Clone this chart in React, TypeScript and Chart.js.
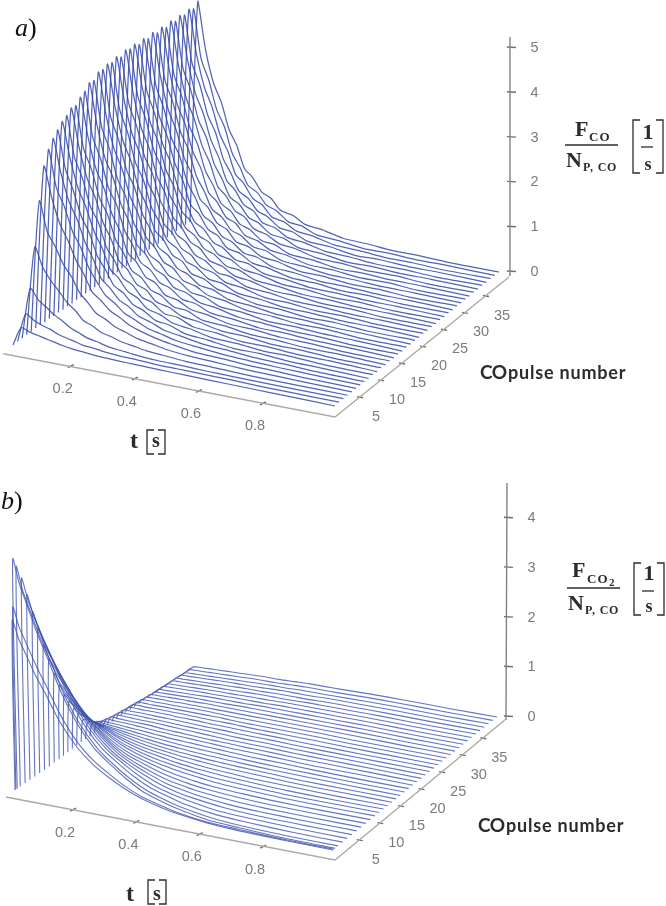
import React, { useEffect, useRef } from "react";
import { Chart, registerables } from "chart.js";

Chart.register(...registerables);

// ---------- panel a data ----------
const timesA = [0.01, 0.035, 0.06, 0.085, 0.11, 0.135, 0.16, 0.185, 0.21, 0.24, 0.27, 0.3, 0.34, 0.38, 0.43, 0.5, 0.58, 0.66, 0.75, 0.85, 1];
const pulsesA = [1, 2, 3, 4, 5, 6, 7, 8, 9, 10, 11, 12, 13, 14, 15, 16, 17, 18, 19, 20, 21, 22, 23, 24, 25, 26, 27, 28, 29, 30, 31, 32, 33, 34, 35, 36, 37, 38, 39, 40];
const ratesA = [
  [0, .42, .36, .32, .28, .24, .2, .17, .15, .13, .11, .1, .09, .08, .07, .06, .05, .04, .03, .02, 0],
  [.01, .65, .55, .47, .42, .34, .29, .25, .2, .18, .15, .13, .11, .1, .08, .07, .06, .05, .03, .02, .01],
  [.01, 1.15, .93, .8, .66, .56, .44, .37, .29, .25, .19, .16, .13, .1, .08, .07, .05, .04, .03, .02, .01],
  [.02, 2, 1.58, 1.32, 1.12, .9, .76, .57, .5, .38, .33, .26, .21, .16, .13, .09, .07, .05, .03, .02, .01],
  [.02, 2.95, 2.3, 2, 1.64, 1.4, 1.08, .9, .7, .6, .47, .4, .3, .25, .18, .13, .1, .07, .05, .03, .01],
  [.03, 3.65, 2.98, 2.44, 2.1, 1.7, 1.41, 1.06, .92, .72, .61, .48, .38, .3, .23, .15, .12, .08, .06, .03, .01],
  [.03, 3.95, 3.14, 2.75, 2.24, 1.92, 1.5, 1.22, .97, .82, .64, .54, .4, .33, .24, .18, .12, .09, .06, .04, .01],
  [.02, 4.12, 3.4, 2.8, 2.44, 1.96, 1.62, 1.22, 1.06, .82, .71, .54, .45, .33, .27, .18, .14, .09, .07, .03, .01],
  [.03, 4.24, 3.42, 2.96, 2.42, 2.08, 1.6, 1.34, 1.03, .9, .68, .6, .42, .38, .25, .2, .12, .11, .06, .04, 0],
  [.02, 4.36, 3.6, 2.96, 2.56, 2.06, 1.72, 1.29, 1.13, .86, .76, .56, .48, .34, .29, .18, .15, .09, .08, .03, .01],
  [.03, 4.42, 3.54, 3.1, 2.5, 2.18, 1.66, 1.4, 1.06, .94, .7, .63, .43, .4, .25, .21, .12, .11, .06, .05, 0],
  [.02, 4.52, 3.7, 3.04, 2.65, 2.12, 1.78, 1.33, 1.18, .88, .79, .57, .5, .35, .3, .19, .16, .09, .08, .03, .01],
  [.03, 4.5, 3.6, 3.16, 2.56, 2.22, 1.7, 1.43, 1.08, .96, .72, .65, .44, .41, .26, .22, .13, .11, .06, .05, 0],
  [.02, 4.62, 3.78, 3.1, 2.7, 2.16, 1.82, 1.36, 1.2, .9, .81, .58, .51, .36, .31, .19, .16, .1, .08, .03, .01],
  [.03, 4.68, 3.72, 3.26, 2.64, 2.3, 1.76, 1.47, 1.12, .99, .74, .67, .46, .42, .27, .22, .13, .12, .07, .05, 0],
  [.02, 4.8, 3.9, 3.2, 2.8, 2.24, 1.88, 1.4, 1.24, .94, .83, .6, .53, .37, .32, .2, .16, .1, .08, .03, .01],
  [.03, 4.78, 3.8, 3.33, 2.7, 2.35, 1.8, 1.5, 1.14, 1.01, .76, .68, .47, .43, .27, .23, .13, .12, .07, .05, 0],
  [.02, 4.9, 3.98, 3.27, 2.85, 2.28, 1.92, 1.43, 1.26, .95, .85, .62, .54, .38, .33, .2, .17, .1, .09, .03, .01],
  [.03, 4.88, 3.88, 3.4, 2.76, 2.4, 1.84, 1.53, 1.17, 1.03, .77, .69, .48, .44, .28, .23, .14, .12, .07, .05, 0],
  [.02, 4.94, 4.02, 3.3, 2.88, 2.3, 1.95, 1.44, 1.28, .96, .86, .62, .55, .38, .33, .2, .17, .1, .09, .03, .01],
  [.03, 4.9, 3.9, 3.42, 2.78, 2.42, 1.85, 1.55, 1.18, 1.04, .78, .7, .48, .44, .28, .23, .14, .12, .07, .05, 0],
  [.02, 4.96, 4.04, 3.32, 2.9, 2.3, 1.96, 1.45, 1.28, .97, .86, .63, .55, .38, .33, .2, .17, .1, .09, .03, .01],
  [.03, 4.88, 3.9, 3.42, 2.78, 2.42, 1.85, 1.55, 1.18, 1.04, .78, .7, .48, .44, .28, .23, .14, .12, .07, .05, 0],
  [.02, 4.97, 4.04, 3.32, 2.9, 2.3, 1.96, 1.45, 1.28, .97, .86, .63, .55, .38, .33, .2, .17, .1, .09, .03, .01],
  [.03, 4.92, 3.92, 3.44, 2.8, 2.42, 1.86, 1.56, 1.18, 1.04, .78, .7, .48, .44, .28, .23, .14, .12, .07, .05, 0],
  [.02, 4.96, 4.04, 3.3, 2.9, 2.3, 1.96, 1.44, 1.28, .96, .86, .62, .55, .38, .33, .2, .17, .1, .09, .03, .01],
  [.03, 4.88, 3.9, 3.42, 2.78, 2.4, 1.85, 1.54, 1.18, 1.04, .78, .7, .48, .44, .28, .23, .14, .12, .07, .05, 0],
  [.02, 4.94, 4.02, 3.3, 2.88, 2.3, 1.95, 1.44, 1.28, .96, .86, .62, .55, .38, .33, .2, .17, .1, .09, .03, .01],
  [.03, 4.87, 3.88, 3.4, 2.76, 2.4, 1.84, 1.53, 1.17, 1.03, .77, .69, .48, .44, .28, .23, .14, .12, .07, .05, 0],
  [.02, 4.94, 4.02, 3.3, 2.88, 2.3, 1.95, 1.44, 1.28, .96, .86, .62, .55, .38, .33, .2, .17, .1, .09, .03, .01],
  [.03, 4.86, 3.86, 3.4, 2.76, 2.4, 1.84, 1.53, 1.16, 1.03, .77, .69, .48, .44, .28, .23, .14, .12, .07, .05, 0],
  [.02, 4.92, 4, 3.28, 2.86, 2.28, 1.94, 1.43, 1.27, .95, .85, .62, .54, .38, .33, .2, .17, .1, .09, .03, .01],
  [.03, 4.84, 3.84, 3.38, 2.74, 2.38, 1.82, 1.52, 1.15, 1.02, .76, .68, .47, .43, .27, .23, .13, .12, .07, .05, 0],
  [.02, 4.92, 3.98, 3.27, 2.85, 2.28, 1.92, 1.43, 1.26, .95, .85, .62, .54, .38, .33, .2, .17, .1, .09, .03, .01],
  [.03, 4.84, 3.84, 3.38, 2.74, 2.38, 1.82, 1.52, 1.15, 1.02, .76, .68, .47, .43, .27, .23, .13, .12, .07, .05, 0],
  [.02, 4.9, 3.96, 3.25, 2.83, 2.26, 1.9, 1.42, 1.25, .94, .84, .61, .54, .37, .32, .2, .16, .1, .08, .03, .01],
  [.03, 4.84, 3.82, 3.36, 2.72, 2.36, 1.8, 1.5, 1.14, 1.01, .76, .68, .47, .43, .27, .23, .13, .12, .07, .05, 0],
  [.02, 4.9, 3.94, 3.24, 2.82, 2.24, 1.9, 1.41, 1.25, .94, .83, .6, .53, .37, .32, .2, .16, .1, .08, .03, .01],
  [.03, 4.84, 3.78, 3.32, 2.7, 2.34, 1.78, 1.49, 1.13, 1, .75, .67, .46, .42, .27, .22, .13, .12, .07, .05, 0],
  [.02, 4.96, 3.9, 3.2, 2.8, 2.22, 1.88, 1.4, 1.24, .94, .83, .6, .53, .37, .32, .2, .16, .1, .08, .03, 0],
];

// ---------- panel b data ----------
const timesB = [0.005, 0.012, 0.03, 0.05, 0.08, 0.11, 0.15, 0.2, 0.25, 0.3, 0.35, 0.4, 0.45, 0.5, 0.6, 0.7, 0.85, 1];
const pulsesB = [1, 1.2, 1.5, 2.2, 3.3, 4.4, 5.5, 6.6, 7.7, 8.8, 9.9, 11, 12, 13, 14, 15, 16, 17, 18, 19, 20, 21, 22, 23, 24, 25, 26, 27, 28, 29, 30, 31, 32, 33, 34, 35, 36, 37, 38, 39, 40];
const ratesB = [
  [0, 3.4, 3.06, 2.79, 2.38, 2.04, 1.56, 1.12, .82, .61, .44, .31, .22, .15, .07, .03, .01, 0],
  [0, 3.65, 3.28, 2.99, 2.56, 2.19, 1.68, 1.2, .88, .66, .47, .33, .24, .16, .07, .04, .01, 0],
  [0, 4.6, 4.14, 3.77, 3.22, 2.76, 2.12, 1.52, 1.1, .83, .6, .41, .3, .21, .09, .05, .01, 0],
  [0, 4.4, 3.96, 3.6, 3.08, 2.64, 2.02, 1.45, 1.06, .79, .57, .4, .29, .2, .09, .04, .01, 0],
  [0, 4.1, 3.7, 3.36, 2.87, 2.46, 1.89, 1.35, .98, .74, .53, .37, .27, .18, .08, .04, .01, 0],
  [0, 3.7, 3.33, 3.03, 2.59, 2.22, 1.7, 1.22, .89, .67, .48, .33, .24, .17, .07, .04, .01, 0],
  [0, 3.3, 2.97, 2.71, 2.31, 1.98, 1.52, 1.09, .79, .59, .43, .3, .21, .15, .07, .03, .01, 0],
  [0, 2.9, 2.61, 2.38, 2.03, 1.74, 1.33, .96, .7, .52, .38, .26, .19, .13, .06, .03, .01, 0],
  [0, 2.5, 2.25, 2.05, 1.75, 1.5, 1.15, .83, .6, .45, .33, .23, .17, .12, .06, .03, .01, 0],
  [0, 2.15, 1.94, 1.76, 1.51, 1.29, .99, .71, .52, .4, .29, .21, .15, .11, .06, .03, .01, 0],
  [.01, 1.8, 1.62, 1.48, 1.26, 1.08, .84, .61, .45, .35, .26, .19, .14, .1, .06, .03, .01, 0],
  [.01, 1.5, 1.36, 1.24, 1.07, .92, .72, .53, .4, .31, .24, .18, .14, .1, .06, .03, .01, 0],
  [.02, 1.25, 1.14, 1.04, .9, .78, .62, .46, .36, .28, .22, .17, .13, .1, .06, .03, .01, 0],
  [.03, 1.05, .96, .88, .77, .67, .54, .41, .32, .26, .2, .16, .13, .1, .06, .03, .01, 0],
  [.04, .85, .78, .72, .64, .56, .46, .36, .29, .24, .19, .15, .12, .1, .06, .04, .01, 0],
  [.05, .68, .65, .6, .54, .48, .4, .32, .26, .22, .18, .15, .12, .1, .07, .04, .02, 0],
  [.05, .5, .52, .49, .45, .41, .35, .29, .24, .2, .17, .14, .12, .1, .07, .04, .02, 0],
  [.05, .38, .43, .41, .38, .35, .31, .26, .22, .19, .16, .14, .12, .1, .07, .05, .02, 0],
  [.05, .3, .37, .35, .33, .31, .28, .24, .21, .18, .16, .14, .12, .1, .07, .05, .02, 0],
  [.05, .25, .32, .31, .3, .28, .26, .23, .2, .18, .16, .14, .12, .1, .08, .05, .02, 0],
  [.05, .2, .3, .29, .28, .27, .25, .22, .2, .18, .16, .14, .12, .11, .08, .05, .03, 0],
  [.05, .18, .28, .27, .26, .25, .24, .21, .19, .17, .15, .14, .12, .11, .08, .06, .03, 0],
  [.04, .16, .26, .26, .25, .24, .23, .21, .19, .17, .15, .13, .12, .11, .08, .06, .03, 0],
  [.04, .15, .25, .24, .24, .23, .22, .2, .18, .17, .15, .13, .12, .11, .08, .06, .03, 0],
  [.04, .14, .24, .23, .23, .22, .21, .2, .18, .16, .15, .13, .12, .11, .08, .06, .03, 0],
  [.04, .13, .23, .23, .22, .22, .21, .19, .18, .16, .15, .13, .12, .11, .08, .06, .03, 0],
  [.04, .12, .22, .22, .21, .21, .2, .19, .17, .16, .15, .13, .12, .11, .09, .06, .03, 0],
  [.03, .11, .21, .21, .2, .2, .19, .18, .17, .16, .14, .13, .12, .11, .09, .06, .03, 0],
  [.03, .1, .2, .2, .19, .19, .18, .18, .17, .15, .14, .13, .12, .11, .09, .06, .03, 0],
  [.03, .09, .19, .19, .19, .18, .18, .17, .16, .15, .14, .13, .12, .11, .09, .07, .03, 0],
  [.03, .09, .18, .18, .18, .18, .17, .17, .16, .15, .14, .13, .12, .11, .09, .07, .03, 0],
  [.03, .08, .17, .17, .17, .17, .17, .16, .15, .15, .14, .13, .12, .11, .09, .07, .03, 0],
  [.02, .08, .16, .16, .16, .16, .16, .16, .15, .14, .14, .13, .12, .11, .09, .07, .03, 0],
  [.02, .08, .16, .16, .16, .16, .16, .15, .15, .14, .13, .13, .12, .11, .09, .07, .03, 0],
  [.02, .07, .15, .15, .15, .15, .15, .15, .14, .14, .13, .13, .12, .11, .09, .07, .03, 0],
  [.02, .07, .15, .15, .15, .15, .15, .14, .14, .14, .13, .12, .12, .11, .09, .07, .03, 0],
  [.02, .07, .14, .14, .14, .14, .14, .14, .14, .13, .13, .12, .11, .11, .09, .07, .03, 0],
  [.02, .07, .14, .14, .14, .14, .14, .14, .13, .13, .13, .12, .11, .11, .09, .07, .03, 0],
  [.01, .06, .13, .13, .13, .13, .13, .13, .13, .13, .12, .12, .11, .1, .09, .07, .03, 0],
  [.01, .06, .13, .13, .13, .13, .13, .13, .13, .12, .12, .12, .11, .1, .09, .07, .03, 0],
  [.01, .06, .13, .13, .13, .13, .13, .13, .13, .12, .12, .12, .11, .1, .09, .07, .03, 0],
];

// ---------- tick labels ----------
const timeTicks = [0.2, 0.4, 0.6, 0.8];
const pulseTicks = [5, 10, 15, 20, 25, 30, 35];
const rateTicksA = [0, 1, 2, 3, 4, 5];
const rateTicksB = [0, 1, 2, 3, 4];

type Pt = { x: number; y: number };
type Geo = {
  t0: number; corners: number[][]; zs: number; lean: number;
  tAxis: number[]; tStart: number; tEnd: number;
  pFront: number[]; pBack: number[]; zBase: number; zTop: number; zx: number; zScale: number;
};

const geoA: Geo = {
  t0: 0.01,
  corners: [[13, 345], [335, 406], [190, 223], [499, 272]],
  zs: 45, lean: 0,
  tAxis: [6.6, 354.4, 320.5, 61.7], tStart: -0.01, tEnd: 1.025,
  pFront: [335, 417], pBack: [509, 277], zBase: 271, zTop: 37, zx: 510, zScale: 44.8,
};
const geoB: Geo = {
  t0: 0.005,
  corners: [[15, 790], [333, 850], [187, 672], [497, 717]],
  zs: 50, lean: 1.5,
  tAxis: [9.7, 797.7, 316.7, 61.7], tStart: -0.012, tEnd: 1.027,
  pFront: [335, 860], pBack: [506, 719], zBase: 716, zTop: 483, zx: 507, zScale: 49.7,
};

function project(g: Geo, t: number, p: number, z: number): Pt {
  const u = (t - g.t0) / (1 - g.t0);
  const v = (p - 1) / 39;
  const c = g.corners;
  const fx = c[0][0] + (c[1][0] - c[0][0]) * u;
  const fy = c[0][1] + (c[1][1] - c[0][1]) * u;
  const bx = c[2][0] + (c[3][0] - c[2][0]) * u;
  const by = c[2][1] + (c[3][1] - c[2][1]) * u;
  const x = fx + (bx - fx) * v;
  const y = fy + (by - fy) * v;
  return { x: x - g.lean * z * Math.max(0, 1 - (x - 15) / 490), y: y - z * g.zs };
}
const tPos = (g: Geo, t: number): Pt => ({ x: g.tAxis[0] + g.tAxis[2] * t, y: g.tAxis[1] + g.tAxis[3] * t });
const pPos = (g: Geo, p: number): Pt => {
  const f = (p + 1) / 41.5;
  return { x: g.pFront[0] + (g.pBack[0] - g.pFront[0]) * f, y: g.pFront[1] + (g.pBack[1] - g.pFront[1]) * f };
};
const zPos = (g: Geo, z: number): Pt => ({ x: g.zx, y: g.zBase - z * g.zScale });

const LINE_A = "rgba(52,72,170,0.85)";
const LINE_B = "rgba(62,82,175,0.8)";
const AXIS = "rgba(170,170,165,1)";
const ZAXIS = "rgba(130,130,130,1)";
const TICK = "rgba(110,110,110,1)";

function curveSets(g: Geo, times: number[], pulses: number[], rates: number[][], color: string, width: number) {
  return rates.map((row, i) => ({
    data: row.map((z, j) => project(g, times[j], pulses[i], z)),
    borderColor: color, borderWidth: width, tension: 0.25, pointRadius: 0, showLine: true, parsing: false as const,
  }));
}
function axisSets(g: Geo, zTicks: number[]) {
  const seg = (data: (Pt | { x: number; y: null })[], color: string, w = 1.4) => ({
    data, borderColor: color, borderWidth: w, pointRadius: 0, showLine: true, spanGaps: false, tension: 0, parsing: false as const,
  });
  const gap = (x: number) => ({ x, y: null });
  const tt: any[] = [], pt: any[] = [], zt: any[] = [];
  timeTicks.forEach((t) => {
    const a = tPos(g, t);
    tt.push({ x: a.x - 3, y: a.y + 1 }, { x: a.x + 3, y: a.y - 2 }, gap(a.x));
  });
  pulseTicks.forEach((p) => {
    const a = pPos(g, p);
    pt.push({ x: a.x - 3, y: a.y }, { x: a.x + 3, y: a.y + 1 }, gap(a.x));
  });
  zTicks.forEach((z) => {
    const a = zPos(g, z);
    zt.push({ x: a.x - 3, y: a.y }, { x: a.x + 6, y: a.y + 0.5 }, gap(a.x));
  });
  return [
    seg([tPos(g, g.tStart), { x: g.pFront[0], y: g.pFront[1] }, { x: g.pBack[0], y: g.pBack[1] }], AXIS),
    seg([{ x: g.zx - 1, y: g.zBase + 4 }, { x: g.zx, y: g.zTop }], ZAXIS),
    seg(tt, TICK), seg(pt, TICK), seg(zt, TICK),
  ];
}

function drawBracket(ctx: CanvasRenderingContext2D, x: number, y0: number, y1: number, dir: number) {
  ctx.beginPath();
  ctx.moveTo(x + dir * 7, y0);
  ctx.lineTo(x, y0);
  ctx.lineTo(x, y1);
  ctx.lineTo(x + dir * 7, y1);
  ctx.stroke();
}

function text(ctx: CanvasRenderingContext2D, s: string, x: number, y: number, font: string, color: string, align: CanvasTextAlign = "center", spacing = "0px") {
  ctx.font = font;
  ctx.fillStyle = color;
  ctx.textAlign = align;
  ctx.textBaseline = "middle";
  (ctx as any).letterSpacing = spacing;
  ctx.fillText(s, x, y);
  (ctx as any).letterSpacing = "0px";
}

const SANS = "'Liberation Sans'";
const SERIF = "'Liberation Serif'";
const GRAY = "#7b7b7b";
const DARK = "#2c2c2c";

function drawPanelText(ctx: CanvasRenderingContext2D, g: Geo, zTicks: number[], yPulseTitle: number, xPulseTitle: number) {
  timeTicks.forEach((t) => {
    const a = tPos(g, t);
    text(ctx, t.toFixed(1), a.x - 8, a.y + 22.5, `14.5px ${SANS}`, GRAY);
  });
  pulseTicks.forEach((p) => {
    const a = pPos(g, p);
    text(ctx, String(p), a.x + 16, a.y + 20, `14.5px ${SANS}`, GRAY);
  });
  zTicks.forEach((z) => {
    const a = zPos(g, z);
    text(ctx, String(z), a.x + 24.5, a.y + 1, `14.5px ${SANS}`, GRAY);
  });
  text(ctx, "CO", xPulseTitle, yPulseTitle, `bold 19px Lato`, DARK, "left", "-0.5px");
  text(ctx, "pulse number", xPulseTitle + 28, yPulseTitle, `bold 18px Lato`, DARK, "left", "0.8px");
}

const labelsPlugin = {
  id: "labels",
  afterDraw(chart: any) {
    const ctx: CanvasRenderingContext2D = chart.ctx;
    ctx.save();
    drawPanelText(ctx, geoA, rateTicksA, 373, 480);
    drawPanelText(ctx, geoB, rateTicksB, 826, 478);

    // panel letters
    text(ctx, "a", 15, 29, `italic 26px ${SERIF}`, "#111", "left");
    text(ctx, ")", 28, 29, `26px ${SERIF}`, "#111", "left");
    text(ctx, "b", 1, 502, `italic 26px ${SERIF}`, "#111", "left");
    text(ctx, ")", 14, 502, `26px ${SERIF}`, "#111", "left");

    ctx.strokeStyle = DARK;
    ctx.lineWidth = 1.3;

    // panel a fraction
    text(ctx, "F", 575, 130, `bold 22px ${SERIF}`, DARK, "left");
    text(ctx, "CO", 589, 138, `bold 13px ${SERIF}`, DARK, "left", "1px");
    ctx.beginPath(); ctx.moveTo(565, 145); ctx.lineTo(618, 145); ctx.stroke();
    text(ctx, "N", 566, 161, `bold 22px ${SERIF}`, DARK, "left");
    text(ctx, "P, CO", 583, 168, `bold 12px ${SERIF}`, DARK, "left", "0.8px");
    drawBracket(ctx, 633, 120, 173, 1);
    drawBracket(ctx, 663, 120, 173, -1);
    text(ctx, "1", 648, 133, `bold 22px ${SERIF}`, DARK);
    ctx.beginPath(); ctx.moveTo(641, 147); ctx.lineTo(653, 147); ctx.stroke();
    text(ctx, "s", 648, 165, `bold 18px ${SERIF}`, DARK);

    // panel a time title
    text(ctx, "t", 134, 442, `bold 24px ${SERIF}`, DARK);
    drawBracket(ctx, 147, 430, 454, 1);
    drawBracket(ctx, 165, 430, 454, -1);
    text(ctx, "s", 156, 442, `bold 20px ${SERIF}`, DARK);

    // panel b fraction
    text(ctx, "F", 572, 571, `bold 22px ${SERIF}`, DARK, "left");
    text(ctx, "CO", 587, 580, `bold 13px ${SERIF}`, DARK, "left", "1px");
    text(ctx, "2", 609, 583, `bold 11px ${SERIF}`, DARK, "left");
    ctx.beginPath(); ctx.moveTo(567, 588); ctx.lineTo(620, 588); ctx.stroke();
    text(ctx, "N", 568, 604, `bold 22px ${SERIF}`, DARK, "left");
    text(ctx, "P, CO", 585, 611, `bold 12px ${SERIF}`, DARK, "left", "0.8px");
    drawBracket(ctx, 634, 563, 615, 1);
    drawBracket(ctx, 664, 563, 615, -1);
    text(ctx, "1", 649, 574, `bold 22px ${SERIF}`, DARK);
    ctx.beginPath(); ctx.moveTo(642, 591); ctx.lineTo(654, 591); ctx.stroke();
    text(ctx, "s", 649, 607, `bold 18px ${SERIF}`, DARK);

    // panel b time title
    text(ctx, "t", 130, 895, `bold 24px ${SERIF}`, DARK);
    drawBracket(ctx, 148, 880, 904, 1);
    drawBracket(ctx, 166, 880, 904, -1);
    text(ctx, "s", 157, 895, `bold 20px ${SERIF}`, DARK);

    ctx.restore();
  },
};

export default function App() {
  const ref = useRef<HTMLCanvasElement>(null);
  useEffect(() => {
    document.body.style.margin = "0";
    const chart = new Chart(ref.current as HTMLCanvasElement, {
      type: "scatter",
      data: {
        datasets: [
          ...axisSets(geoA, rateTicksA),
          ...axisSets(geoB, rateTicksB),
          ...curveSets(geoA, timesA, pulsesA, ratesA, LINE_A, 1.25),
          ...curveSets(geoB, timesB, pulsesB, ratesB, LINE_B, 1.1),
        ] as any,
      },
      options: {
        animation: false,
        responsive: false,
        layout: { padding: 0 },
        plugins: { legend: { display: false }, tooltip: { enabled: false } },
        scales: {
          x: { type: "linear", min: 0, max: 666, display: false },
          y: { type: "linear", min: 0, max: 906, reverse: true, display: false },
        },
      },
      plugins: [labelsPlugin],
    });
    return () => chart.destroy();
  }, []);
  return (
    <div style={{ position: "absolute", left: 0, top: 0, width: 666, height: 906, overflow: "hidden", background: "#fff" }}>
      <canvas ref={ref} width={666} height={906} style={{ display: "block", filter: "blur(0.5px)" }} />
    </div>
  );
}
